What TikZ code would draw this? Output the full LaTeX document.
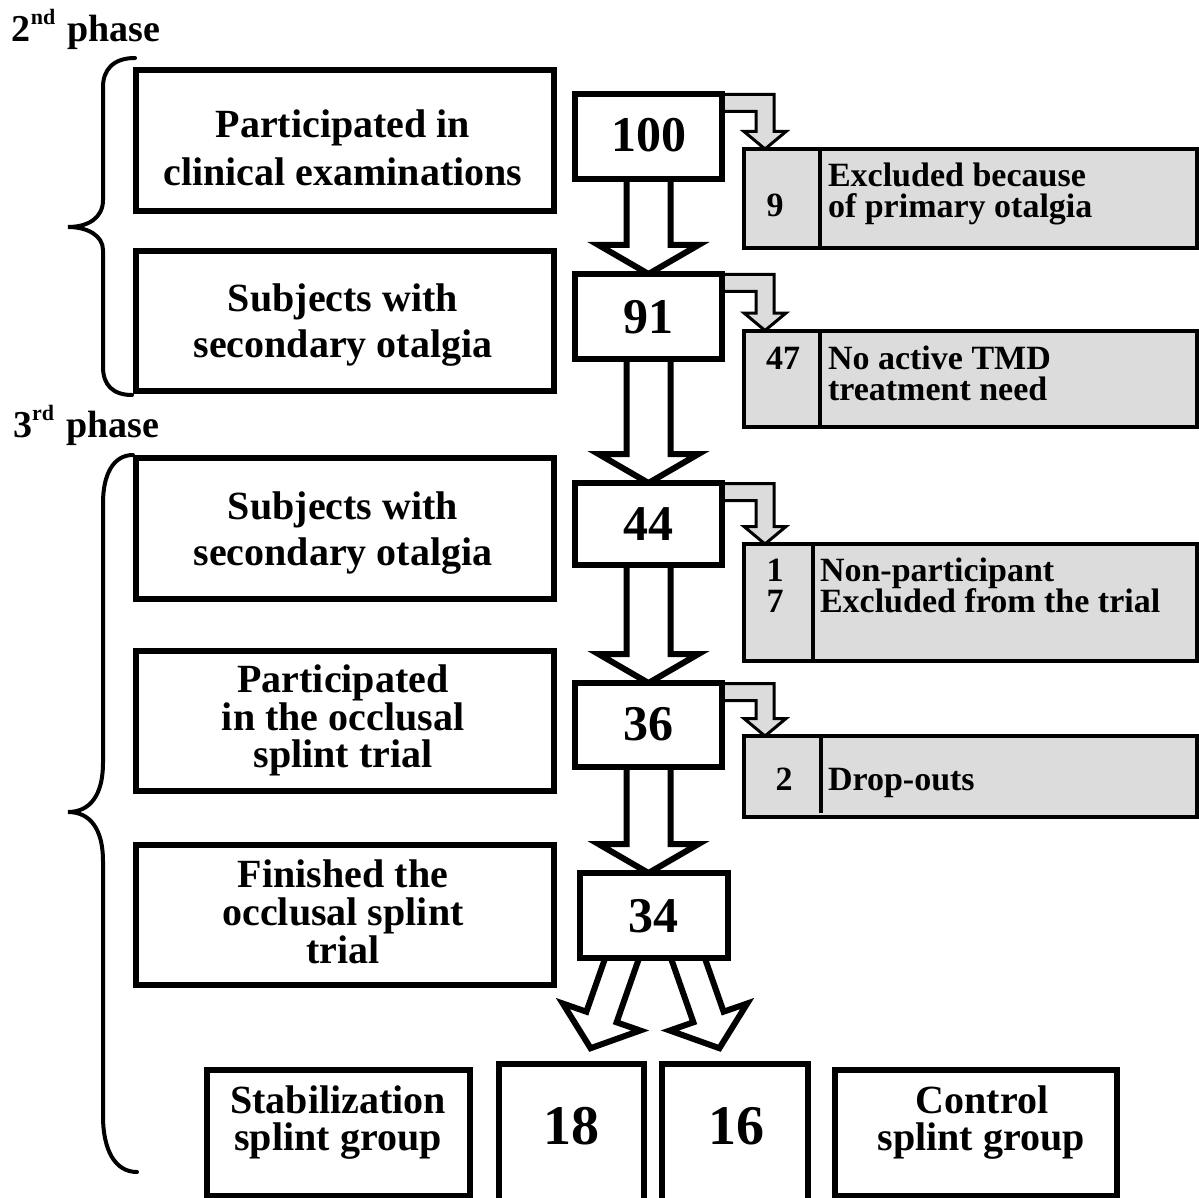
\documentclass[tikz,border=0pt]{standalone}
\usepackage{fontspec}
\setmainfont{Liberation Serif}
\usetikzlibrary{calc}
\definecolor{greyfill}{HTML}{DCDCDC}
\newcommand{\fbig}{\fontsize{40}{46}\selectfont\bfseries}
\newcommand{\fnum}{\fontsize{50}{50}\selectfont\bfseries}
\newcommand{\fnumL}{\fontsize{56}{56}\selectfont\bfseries}
\newcommand{\fsm}{\fontsize{34}{34}\selectfont\bfseries}
\newcommand{\fph}{\fontsize{38}{38}\selectfont\bfseries}
\newcommand{\fsup}{\fontsize{22}{22}\selectfont\bfseries}
\newcommand{\bigdown}[2]{%
  \draw[bigarr] ($(#1.south)+(-22,0)$) -- ($(#1.south |- #2.north)+(-22,-29)$) -- ($(#1.south |- #2.north)+(-50,-29)$) -- (#1.south |- #2.north) -- ($(#1.south |- #2.north)+(50,-29)$) -- ($(#1.south |- #2.north)+(22,-29)$) -- ($(#1.south)+(22,0)$);}
\newcommand{\sidearrow}[2]{%
  \draw[sidearr] let \p1=(#1.north east), \p2=(#2.north west) in
  (\x1,\y1-0.5pt) -- (\x2+30pt,\y1-0.5pt) -- (\x2+30pt,\y2+17.5pt) -- (\x2+42pt,\y2+17.5pt) -- (\x2+21pt,\y2) -- (\x2+0pt,\y2+17.5pt) -- (\x2+12pt,\y2+17.5pt) -- (\x2+12pt,\y1-17.5pt) -- (\x1,\y1-17.5pt);}
\begin{document}
\begin{tikzpicture}[x=1pt,y=-1pt,
  box/.style={draw,line width=6pt,fill=white,inner sep=0pt,outer sep=0pt},
  gbox/.style={draw,line width=4pt,fill=greyfill,inner sep=0pt,outer sep=0pt},
  bigarr/.style={draw,line width=6pt,fill=white,line join=miter,miter limit=10},
  sidearr/.style={draw,line width=3pt,fill=greyfill,line join=miter,miter limit=10},
  divider/.style={line width=4pt},
  brace/.style={line width=4pt,line cap=round},
  txt/.style={inner sep=0pt,outer sep=0pt,anchor=base},
  ltxt/.style={inner sep=0pt,outer sep=0pt,anchor=base west}]
\useasboundingbox (0,0) rectangle (1199,1198);

% phase labels
\node[ltxt,font=\fph] (p2) at (12,42) {2\raisebox{17pt}{\fsup nd}\hspace{12pt}phase};
\node[ltxt,font=\fph] (p3) at (13,437) {3\raisebox{17pt}{\fsup rd}\hspace{12pt}phase};

% braces
\draw[brace] (135,58) .. controls (113,58) and (103,70) .. (103,87) -- (103,200)
  .. controls (103,218) and (88,227) .. (68,227) .. controls (88,227) and (103,236) .. (103,250)
  -- (103,367) .. controls (103,385) and (113,395) .. (132,395);
\draw[brace] (133,455) .. controls (113,455) and (103,475) .. (103,503) -- (103,763)
  .. controls (103,795) and (90,812) .. (68,812) .. controls (90,812) and (103,829) .. (103,861)
  -- (103,1116) .. controls (103,1150) and (115,1172) .. (137,1172);

% left boxes
\path
  (345,140.5) node[box,minimum width=418pt,minimum height=141pt] (L1) {}
  (345,321) node[box,minimum width=418pt,minimum height=140pt] (L2) {}
  (345,528.5) node[box,minimum width=418pt,minimum height=141pt] (L3) {}
  (345,721) node[box,minimum width=418pt,minimum height=140pt] (L4) {}
  (345,915) node[box,minimum width=418pt,minimum height=140pt] (L5) {};

% grey boxes
\node[gbox,minimum width=453pt,minimum height=99pt] (G1) at (970.5,198.5) {};
\node[gbox,minimum width=453pt,minimum height=96.5pt] (G2) at (970.5,378.75) {};
\node[gbox,minimum width=453pt,minimum height=117pt] (G3) at (970.5,602.5) {};
\node[gbox,minimum width=453pt,minimum height=81pt] (G4) at (970.5,776.5) {};
\draw[divider] ($(G1.north west)+(75.5,0)$) -- ($(G1.south west)+(75.5,0)$);
\draw[divider] ($(G2.north west)+(75.5,0)$) -- ($(G2.south west)+(75.5,0)$);
\draw[divider] ($(G3.north west)+(68.5,0)$) -- ($(G3.south west)+(68.5,0)$);
\draw[divider] ($(G4.north west)+(77,0)$) -- ($(G4.south west)+(77,-4)$);

% number boxes (placed, drawn after arrows)
\path (648.5,136.5) node[minimum width=147pt,minimum height=85pt,inner sep=0pt,outer sep=0pt] (N100) {}
      (648.5,316.5) node[minimum width=147pt,minimum height=85pt,inner sep=0pt,outer sep=0pt] (N91) {}
      (648.5,524) node[minimum width=147pt,minimum height=82pt,inner sep=0pt,outer sep=0pt] (N44) {}
      (648.5,725) node[minimum width=147pt,minimum height=84pt,inner sep=0pt,outer sep=0pt] (N36) {}
      (654,915.5) node[minimum width=148pt,minimum height=85pt,inner sep=0pt,outer sep=0pt] (N34) {};
\path (338.5,1133) node[minimum width=263pt,minimum height=126pt,inner sep=0pt,outer sep=0pt] (S) {}
      (571.5,1137) node[minimum width=145pt,minimum height=146pt,inner sep=0pt,outer sep=0pt] (N18) {}
      (734.75,1137) node[minimum width=146.5pt,minimum height=146pt,inner sep=0pt,outer sep=0pt] (N16) {}
      (976,1133) node[minimum width=282pt,minimum height=126pt,inner sep=0pt,outer sep=0pt] (C) {};

% arrows
\bigdown{N100}{N91}
\bigdown{N91}{N44}
\bigdown{N44}{N36}
\bigdown{N36}{N34}
\sidearrow{N100}{G1}
\sidearrow{N91}{G2}
\sidearrow{N44}{G3}
\sidearrow{N36}{G4}
\draw[bigarr] ($(N34.south)+(-14.9,0)$) -- ($(N34.south)+(-37.4,64.3)$) -- ($(N34.south)+(-13.8,72.5)$) -- ($(N34.south)+(-63.4,90.2)$) -- ($(N34.south)+(-91.2,45.5)$) -- ($(N34.south)+(-67.6,53.7)$) -- ($(N34.south)+(-48.8,0)$);
\draw[bigarr] ($(N34.south)+(16.9,0)$) -- ($(N34.south)+(39.4,64.3)$) -- ($(N34.south)+(15.8,72.5)$) -- ($(N34.south)+(65.4,90.2)$) -- ($(N34.south)+(93.2,45.5)$) -- ($(N34.south)+(69.6,53.7)$) -- ($(N34.south)+(50.8,0)$);

% number and bottom boxes drawn
\foreach \n in {N100,N91,N44,N36,N34,S,N18,N16,C}
  \draw[line width=6pt,fill=white] (\n.north west) rectangle (\n.south east);

% texts left boxes
\node[txt,font=\fbig] (t1a) at (343,138) {Participated in};
\node[txt,font=\fbig] (t1b) at (343,186) {clinical examinations};
\node[txt,font=\fbig] (t2a) at (343,312) {Subjects with};
\node[txt,font=\fbig] (t2b) at (343,357) {secondary otalgia};
\node[txt,font=\fbig] (t3a) at (343,519) {Subjects with};
\node[txt,font=\fbig] (t3b) at (343,565) {secondary otalgia};
\node[txt,font=\fbig] (t4a) at (343,692) {Participated};
\node[txt,font=\fbig] (t4b) at (343,730) {in the occlusal};
\node[txt,font=\fbig] (t4c) at (343,767) {splint trial};
\node[txt,font=\fbig] (t5a) at (343,887) {Finished the};
\node[txt,font=\fbig] (t5b) at (343,925) {occlusal splint};
\node[txt,font=\fbig] (t5c) at (343,963) {trial};

% numbers
\node[txt,font=\fnum] (n100) at (649,152) {100};
\node[txt,font=\fnum] (n91) at (648.5,333) {91};
\node[txt,font=\fnum] (n44) at (648.5,540) {44};
\node[txt,font=\fnum] (n36) at (648.5,740) {36};
\node[txt,font=\fnum] (n34) at (653,932) {34};

% grey texts
\node[txt,font=\fsm] (g1n) at (775,217) {9};
\node[ltxt,font=\fsm] (g1a) at (828,187) {Excluded because};
\node[ltxt,font=\fsm] (g1b) at (828,218) {of primary otalgia};
\node[txt,font=\fsm] (g2n) at (783,369) {47};
\node[ltxt,font=\fsm] (g2a) at (828,369) {No active TMD};
\node[ltxt,font=\fsm] (g2b) at (828,400) {treatment need};
\node[txt,font=\fsm] (g3n) at (775,581) {1};
\node[txt,font=\fsm] (g3m) at (775,612) {7};
\node[ltxt,font=\fsm] (g3a) at (820,581) {Non-participant};
\node[ltxt,font=\fsm] (g3b) at (820,612) {Excluded from the trial};
\node[txt,font=\fsm] (g4n) at (784,790) {2};
\node[ltxt,font=\fsm] (g4a) at (828,790) {Drop-outs};

% bottom texts
\node[txt,font=\fbig] (sa) at (338,1113) {Stabilization};
\node[txt,font=\fbig] (sb) at (338,1150) {splint group};
\node[txt,font=\fnumL] (n18) at (571,1144) {18};
\node[txt,font=\fnumL] (n16) at (736,1144) {16};
\node[txt,font=\fbig] (ca) at (982,1113) {Control};
\node[txt,font=\fbig] (cb) at (981,1150) {splint group};
\end{tikzpicture}
\end{document}
